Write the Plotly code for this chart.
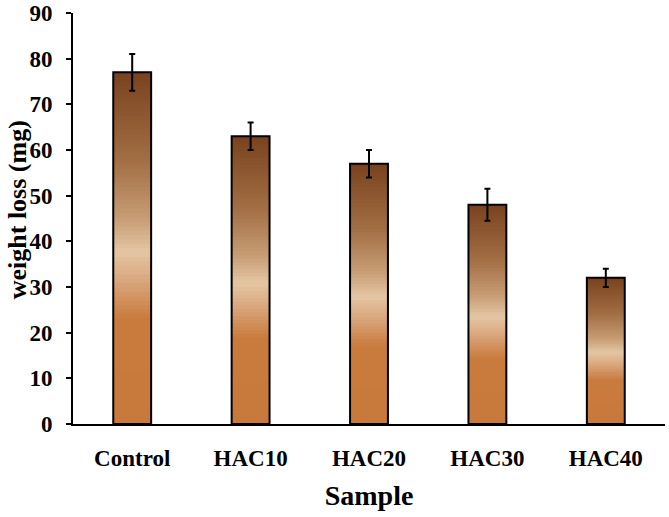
import plotly.graph_objects as go

categories = ["Control", "HAC10", "HAC20", "HAC30", "HAC40"]
weight_loss = [77, 63, 57, 48, 32]
errors = [4, 3, 3, 3.5, 2]
y_ticks = [0, 10, 20, 30, 40, 50, 60, 70, 80, 90]

# vertical gradient stops (fraction of bar height -> colour)
grad_stops = [
    (0.00, (200, 121, 60)),
    (0.30, (201, 123, 62)),
    (0.40, (216, 164, 122)),
    (0.49, (228, 198, 164)),
    (0.58, (200, 158, 118)),
    (0.75, (162, 110, 68)),
    (0.90, (138, 84, 46)),
    (1.00, (120, 66, 30)),
]

def grad_color(f):
    for (f0, c0), (f1, c1) in zip(grad_stops[:-1], grad_stops[1:]):
        if f0 <= f <= f1:
            t = 0 if f1 == f0 else (f - f0) / (f1 - f0)
            c = [round(a + (b - a) * t) for a, b in zip(c0, c1)]
            return "rgb(%d,%d,%d)" % tuple(c)
    return "rgb(%d,%d,%d)" % grad_stops[-1][1]

font_family = "Liberation Serif, Times New Roman, serif"
N = 80
BW = 0.32

fig = go.Figure()
# each layer spans from its base up to the bar top, so later layers cover earlier ones without seams
for k in range(N):
    f = (k + 0.5) / N
    fig.add_trace(go.Bar(
        x=categories,
        y=[v * (1 - k / N) for v in weight_loss],
        base=[v * k / N for v in weight_loss],
        width=BW,
        marker=dict(color=grad_color(f), line=dict(width=0)),
        hoverinfo="skip",
        showlegend=False,
    ))

fig.add_trace(go.Bar(
    x=categories,
    y=weight_loss,
    width=BW,
    marker=dict(color="rgba(0,0,0,0)", line=dict(color="black", width=2)),
    error_y=dict(type="data", array=errors, visible=True, color="black",
                 thickness=2, width=3),
    showlegend=False,
))

fig.add_annotation(
    text="weight loss (mg)", textangle=-90,
    xref="paper", yref="paper", x=0, y=0.52,
    xanchor="center", yanchor="middle", xshift=-56,
    showarrow=False,
    font=dict(size=26, family=font_family, weight="bold", color="black"),
)

fig.update_layout(
    width=669, height=517,
    barmode="overlay",
    paper_bgcolor="white", plot_bgcolor="white",
    margin=dict(l=73, r=4, t=13, b=93),
    font=dict(family=font_family, color="black", size=23, weight="bold"),
    xaxis=dict(
        range=[-0.5, 4.5], automargin=False,
        showline=True, linecolor="black", linewidth=2,
        ticks="", showgrid=False, zeroline=False,
        tickfont=dict(size=23, family=font_family, weight="bold"),
        ticklabelstandoff=12,
        title=dict(text="Sample", font=dict(size=28, family=font_family, weight="bold"),
                   standoff=16),
    ),
    yaxis=dict(
        range=[0, 90], automargin=False,
        tickvals=y_ticks,
        showline=True, linecolor="black", linewidth=2,
        ticks="outside", ticklen=5, tickwidth=2, tickcolor="black",
        showgrid=False, zeroline=False,
        tickfont=dict(size=23, family=font_family, weight="bold"),
        ticklabelstandoff=9,
    ),
)

fig.write_html("out.html", config={"displayModeBar": False},
               post_script="document.body.style.margin='0';")
